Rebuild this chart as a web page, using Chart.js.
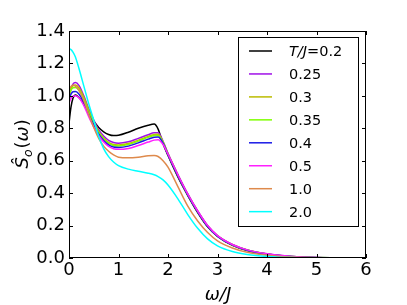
<!DOCTYPE html>
<html>
<head>
<meta charset="utf-8">
<script src="https://cdn.jsdelivr.net/npm/chart.js@4.4.1/dist/chart.umd.min.js"></script>
<style>
  body { margin: 0; background: #fff; }
  #wrap { width: 407px; height: 305px; }
</style>
</head>
<body>
<div id="wrap"><canvas id="chart"></canvas></div>
<script>
const omega = [0, 0.04, 0.08, 0.13, 0.2, 0.3, 0.4, 0.5, 0.6, 0.7, 0.8, 0.9, 1.0, 1.2, 1.4, 1.6, 1.72, 1.8, 1.9, 2.0, 2.2, 2.4, 2.6, 2.8, 3.0, 3.3, 3.6, 4.0, 4.5, 5.0, 6.0];

const tLabels = ['0.2', '0.25', '0.3', '0.35', '0.4', '0.5', '1.0', '2.0'];

const s02  = [0.83, 0.93, 0.985, 1.005, 0.99, 0.95, 0.895, 0.845, 0.805, 0.778, 0.762, 0.755, 0.757, 0.776, 0.80, 0.819, 0.826, 0.795, 0.705, 0.632, 0.50, 0.385, 0.28, 0.192, 0.133, 0.078, 0.046, 0.023, 0.008, 0.002, 0.0];
const s025 = [0.98, 1.04, 1.072, 1.082, 1.065, 1.0, 0.92, 0.85, 0.79, 0.752, 0.725, 0.712, 0.708, 0.717, 0.738, 0.76, 0.772, 0.772, 0.72, 0.645, 0.515, 0.395, 0.29, 0.2, 0.138, 0.083, 0.05, 0.026, 0.01, 0.003, 0.0];
const s03  = [1.0, 1.045, 1.063, 1.067, 1.05, 0.99, 0.91, 0.84, 0.78, 0.74, 0.713, 0.7, 0.697, 0.706, 0.727, 0.75, 0.762, 0.763, 0.716, 0.642, 0.512, 0.392, 0.288, 0.198, 0.137, 0.082, 0.049, 0.025, 0.009, 0.003, 0.0];
const s035 = [1.0, 1.035, 1.05, 1.052, 1.035, 0.978, 0.9, 0.832, 0.774, 0.734, 0.707, 0.694, 0.691, 0.7, 0.721, 0.744, 0.755, 0.756, 0.713, 0.64, 0.51, 0.391, 0.287, 0.197, 0.136, 0.082, 0.049, 0.025, 0.009, 0.003, 0.0];
const s04  = [0.975, 1.01, 1.025, 1.027, 1.012, 0.96, 0.885, 0.82, 0.764, 0.725, 0.698, 0.685, 0.682, 0.69, 0.71, 0.733, 0.745, 0.746, 0.708, 0.637, 0.508, 0.39, 0.286, 0.196, 0.135, 0.081, 0.048, 0.024, 0.009, 0.003, 0.0];
const s05  = [0.955, 0.985, 0.998, 1.0, 0.988, 0.94, 0.87, 0.808, 0.754, 0.715, 0.688, 0.674, 0.67, 0.676, 0.694, 0.715, 0.727, 0.73, 0.7, 0.64, 0.513, 0.394, 0.29, 0.2, 0.138, 0.083, 0.05, 0.026, 0.01, 0.003, 0.0];
const s10  = [1.04, 1.058, 1.065, 1.06, 1.035, 0.97, 0.885, 0.805, 0.738, 0.69, 0.658, 0.636, 0.622, 0.618, 0.622, 0.63, 0.632, 0.626, 0.6, 0.56, 0.44, 0.32, 0.228, 0.157, 0.106, 0.062, 0.035, 0.017, 0.006, 0.002, 0.0];
const s20  = [1.29, 1.285, 1.27, 1.24, 1.17, 1.06, 0.95, 0.85, 0.75, 0.675, 0.625, 0.592, 0.57, 0.548, 0.535, 0.523, 0.513, 0.502, 0.482, 0.45, 0.365, 0.268, 0.183, 0.118, 0.075, 0.04, 0.022, 0.01, 0.003, 0.001, 0.0];

const xTickLabels = ['0', '1', '2', '3', '4', '5', '6'];
const yTickLabels = ['0.0', '0.2', '0.4', '0.6', '0.8', '1.0', '1.2', '1.4'];

const series = [s02, s025, s03, s035, s04, s05, s10, s20];
const colors = ['#000000', '#a010e8', '#bcbc00', '#7fff00', '#1a1ae6', '#ff20ff', '#de8a4c', '#00ffff'];

const FONT = '"DejaVu Sans", sans-serif';

// frame, inward ticks, axis titles and the legend box
const decorPlugin = {
    id: 'decor',
    afterDatasetsDraw(chart) {
        const { ctx, chartArea: a, scales: { x, y } } = chart;
        ctx.save();
        ctx.strokeStyle = '#000';
        ctx.lineWidth = 1;
        ctx.strokeRect(Math.round(a.left) + 0.5, Math.round(a.top) + 0.5,
            Math.round(a.right - a.left) - 1, Math.round(a.bottom - a.top) - 1);

        const len = 4;
        ctx.beginPath();
        x.ticks.forEach(t => {
            const px = Math.round(x.getPixelForValue(t.value)) + 0.5;
            ctx.moveTo(px, a.bottom); ctx.lineTo(px, a.bottom - len);
            ctx.moveTo(px, a.top); ctx.lineTo(px, a.top + len);
        });
        y.ticks.forEach(t => {
            const py = Math.round(y.getPixelForValue(t.value)) + 0.5;
            ctx.moveTo(a.left, py); ctx.lineTo(a.left + len, py);
            ctx.moveTo(a.right, py); ctx.lineTo(a.right - len, py);
        });
        ctx.stroke();

        // x title: omega / J
        ctx.fillStyle = '#000';
        ctx.textBaseline = 'alphabetic';
        ctx.font = 'italic 18px ' + FONT;
        ctx.textAlign = 'center';
        ctx.fillText('ω/J', (a.left + a.right) / 2 + 0.5, 300);

        // y title: S-hat_o(omega), rotated
        ctx.save();
        ctx.translate(28, (a.top + a.bottom) / 2 + 24);
        ctx.rotate(-Math.PI / 2);
        ctx.textAlign = 'left';
        let cx = 0;
        ctx.font = 'italic 18px ' + FONT;
        ctx.fillText('Ŝ', cx, 0);
        cx += ctx.measureText('Ŝ').width;
        ctx.font = 'italic 12.5px ' + FONT;
        ctx.fillText('o', cx, 4);
        cx += ctx.measureText('o').width + 1;
        ctx.font = '18px ' + FONT;
        ctx.fillText('(', cx, 0);
        cx += ctx.measureText('(').width;
        ctx.font = 'italic 18px ' + FONT;
        ctx.fillText('ω', cx, 0);
        cx += ctx.measureText('ω').width;
        ctx.font = '18px ' + FONT;
        ctx.fillText(')', cx, 0);
        ctx.restore();

        // legend
        const bx = 238.5, by = 37.5, bw = 120, bh = 189;
        ctx.fillStyle = '#fff';
        ctx.fillRect(bx, by, bw, bh);
        ctx.strokeStyle = '#000';
        ctx.strokeRect(bx, by, bw, bh);
        const rowH = 22.95;
        chart.data.datasets.forEach((ds, i) => {
            const ry = 51 + i * rowH;
            ctx.strokeStyle = ds.borderColor;
            ctx.lineWidth = 1.5;
            ctx.beginPath();
            ctx.moveTo(249, ry); ctx.lineTo(272, ry);
            ctx.stroke();
            ctx.fillStyle = '#000';
            ctx.textAlign = 'left';
            if (i === 0) {
                ctx.font = 'italic 14.5px ' + FONT;
                ctx.fillText('T/J', 289, ry + 5.3);
                const w = ctx.measureText('T/J').width;
                ctx.font = '14.5px ' + FONT;
                ctx.fillText('=' + ds.label, 289 + w, ry + 5.3);
            } else {
                ctx.font = '14.5px ' + FONT;
                ctx.fillText(ds.label, 289, ry + 5.3);
            }
        });
        ctx.restore();
    }
};

new Chart(document.getElementById('chart'), {
    type: 'line',
    data: {
        datasets: series.map((s, i) => ({
            label: tLabels[i],
            data: omega.map((w, k) => ({ x: w, y: s[k] })),
            borderColor: colors[i],
            borderWidth: 1.5,
            pointRadius: 0,
            fill: false,
            cubicInterpolationMode: 'monotone',
            order: series.length - i
        }))
    },
    options: {
        responsive: true,
        maintainAspectRatio: false,
        animation: false,
        layout: { padding: { top: 31, right: 41, left: 0, bottom: 0 } },
        plugins: { legend: { display: false }, tooltip: { enabled: false } },
        scales: {
            x: {
                type: 'linear',
                min: 0, max: 6,
                afterFit: s => { s.height = 47; },
                grid: { display: false, drawTicks: false },
                border: { display: false },
                ticks: {
                    stepSize: 1,
                    padding: 2,
                    color: '#000',
                    font: { family: FONT, size: 18 },
                    maxRotation: 0,
                    callback: (v, i) => xTickLabels[i]
                }
            },
            y: {
                type: 'linear',
                min: 0, max: 1.4,
                afterFit: s => { s.width = 69; },
                grid: { display: false, drawTicks: false },
                border: { display: false },
                ticks: {
                    stepSize: 0.2,
                    padding: 4,
                    color: '#000',
                    font: { family: FONT, size: 18 },
                    callback: (v, i) => yTickLabels[i]
                }
            }
        }
    },
    plugins: [decorPlugin]
});
</script>
</body>
</html>
